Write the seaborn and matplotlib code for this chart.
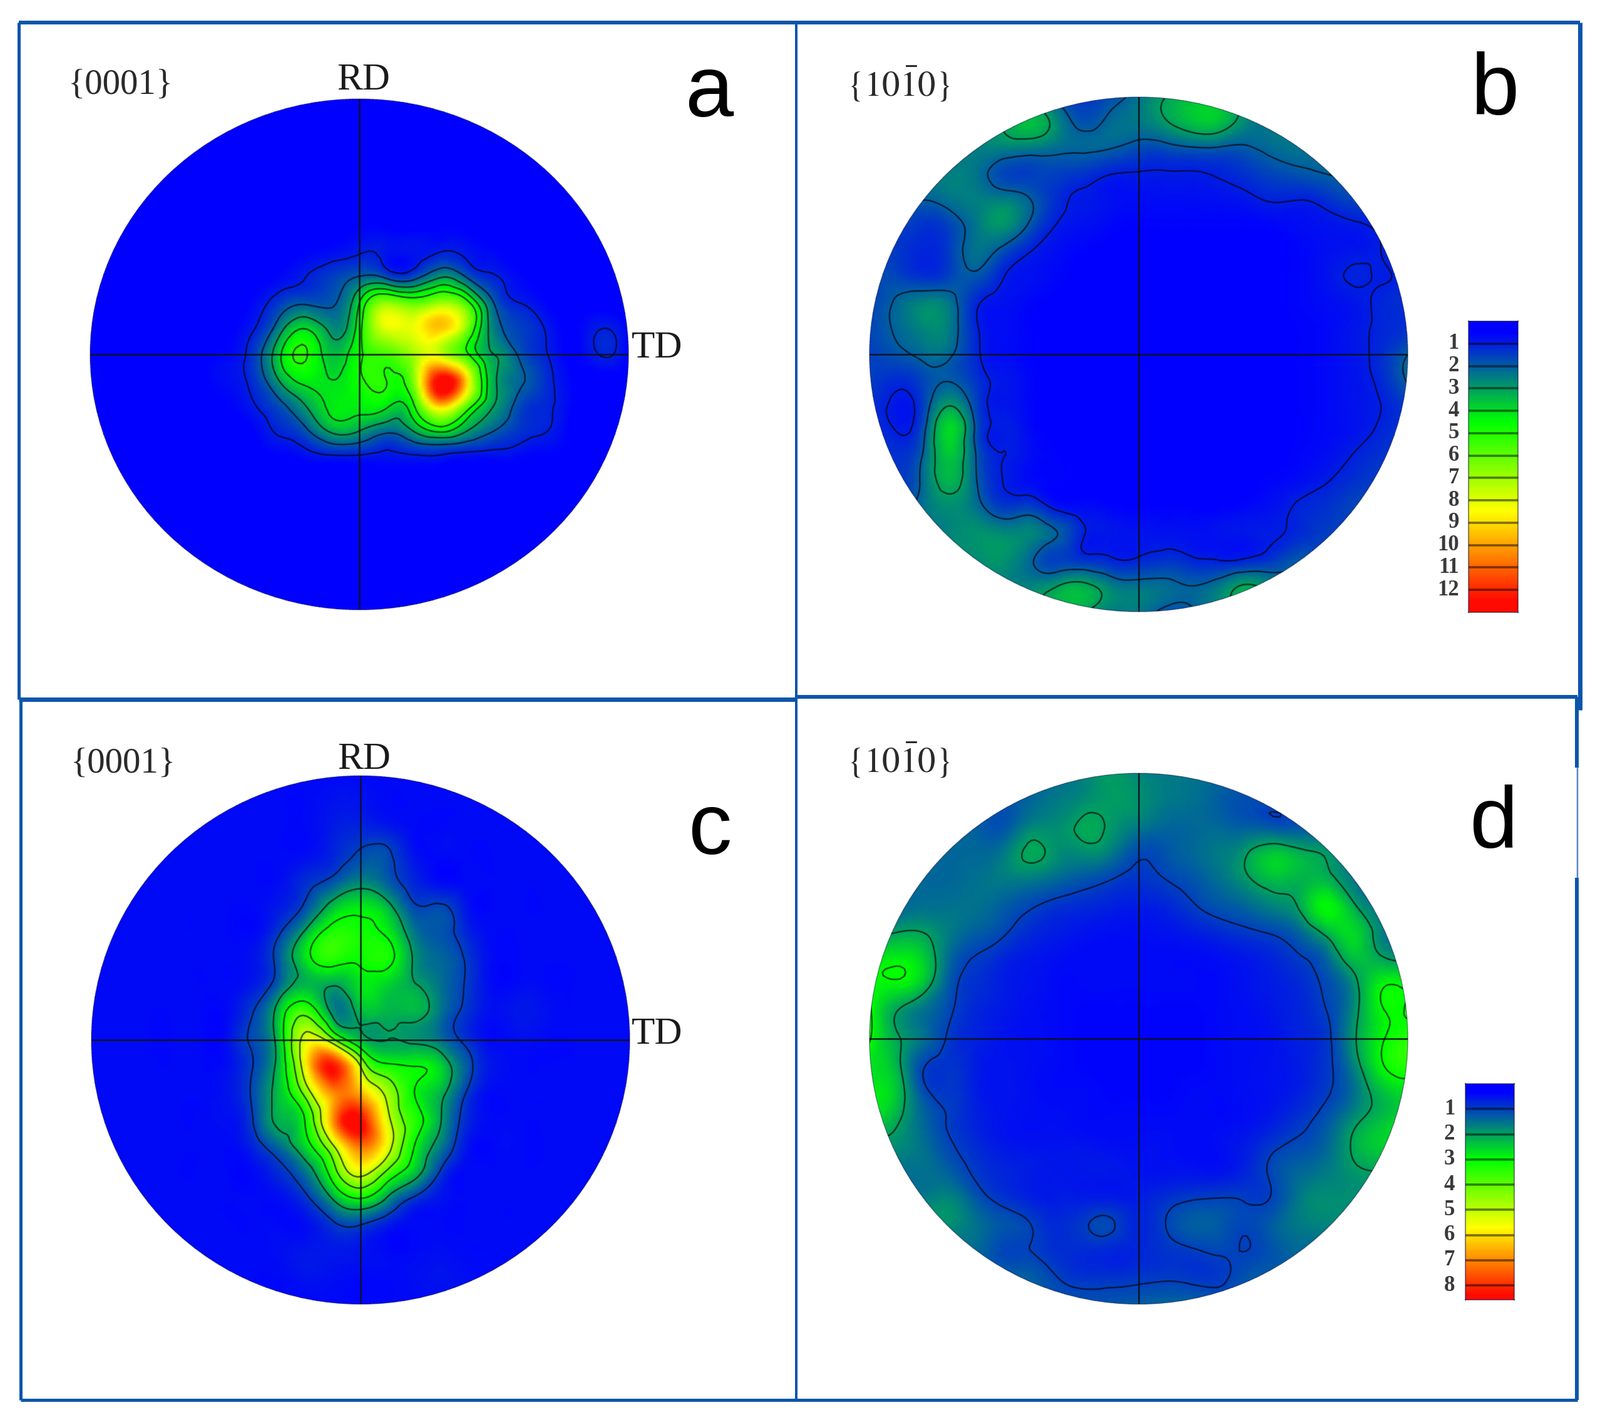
import numpy as np
import seaborn as sns
import matplotlib
matplotlib.use("Agg")
import matplotlib.pyplot as plt
from matplotlib.lines import Line2D
from matplotlib.patches import Circle
from matplotlib.tri import Triangulation, UniformTriRefiner

# ---- intensity: rows Y=+1.0 .. -1.0, columns X=-1.0 .. +1.0 (step 0.1)
Z = 0.4
BLANK = [Z] * 21
panel_a = [
 BLANK, BLANK, BLANK, BLANK, BLANK,
 [.4,.4,.4,.4,.4,.4,.4,.4,.4,.45,.55,.5,.45,.5,.45,.4,.4,.4,.4,.4,.4],
 [.4,.4,.4,.4,.4,.4,.4,.45,.55,.7,.95,.85,.8,1.0,.85,.6,.45,.4,.4,.4,.4],
 [.4,.4,.4,.4,.4,.4,.45,.6,1.0,1.5,2.1,1.9,1.7,3.0,2.0,1.1,.6,.45,.4,.4,.4],
 [.4,.4,.4,.4,.4,.4,.6,1.4,1.9,1.9,4.0,6.8,6.0,7.0,5.5,2.0,1.0,.55,.4,.4,.4],
 [.4,.4,.4,.4,.4,.45,.9,2.5,4.0,2.7,4.6,8.0,8.2,9.4,6.5,2.5,1.5,.9,.5,1.0,.5],
 [.45,.4,.4,.4,.45,.6,1.3,3.7,5.1,3.5,4.8,5.6,7.0,7.7,5.2,3.0,1.8,1.0,.5,1.05,.5],
 [.6,.5,.4,.4,.45,.7,1.2,3.0,4.3,4.0,4.8,5.0,6.5,13.0,9.0,3.2,2.1,1.2,.5,.4,.4],
 [.45,.4,.4,.4,.4,.5,.9,1.7,3.0,4.2,4.3,4.2,4.8,9.5,6.0,3.0,1.6,1.1,.5,.4,.4],
 [.4,.4,.4,.4,.4,.4,.5,1.1,1.8,3.2,3.0,2.2,3.0,4.2,3.0,2.0,1.3,1.0,.4,.4,.4],
 [.4,.4,.4,.4,.4,.4,.4,.5,.7,.9,.9,.8,.9,.9,.7,.7,.6,.5,.4,.4,.4],
 BLANK, BLANK, BLANK, BLANK, BLANK, BLANK,
]
panel_b = [
 [2.5,2.5,2.5,2.5,2.5,2.5,2.5,1.7,1.4,1.7,2.3,3.0,3.5,3.4,2.8,2.4,2.4,2.4,2.4,2.4,2.4],
 [2.5,2.5,2.5,2.5,2.5,3.0,3.5,2.6,1.8,2.2,2.4,2.9,3.5,3.5,2.6,2.4,2.4,2.4,2.4,2.4,2.4],
 [2.4,2.4,2.4,2.4,2.5,2.5,2.4,2.2,2.1,2.0,1.7,1.7,1.9,1.9,1.9,2.2,2.3,2.3,2.3,2.3,2.3],
 [2.4,2.4,2.4,2.5,2.3,1.6,1.5,1.5,1.3,1.0,.95,.95,.95,1.05,1.3,1.6,1.8,2.0,2.1,2.1,2.1],
 [2.2,2.2,2.0,2.3,2.5,2.5,2.0,1.2,.9,.75,.7,.7,.7,.75,.85,1.05,1.0,1.25,1.6,1.7,1.7],
 [1.5,1.6,1.3,1.6,2.4,2.8,1.8,.95,.75,.6,.55,.55,.55,.55,.55,.6,.7,.8,.9,1.1,1.3],
 [1.6,1.4,1.1,1.5,2.3,1.7,1.0,.7,.55,.5,.5,.5,.5,.5,.5,.5,.6,.75,.85,1.0,1.3],
 [1.5,1.6,1.3,1.6,1.8,1.0,.75,.6,.5,.5,.5,.5,.5,.5,.5,.5,.6,.8,1.05,.97,1.2],
 [1.5,2.1,2.6,2.3,1.1,.75,.6,.5,.5,.5,.5,.5,.5,.5,.5,.5,.6,.7,.85,1.1,1.3],
 [1.6,2.1,2.6,2.4,1.05,.7,.55,.5,.5,.5,.5,.5,.5,.5,.5,.5,.55,.65,.85,1.1,1.3],
 [1.5,1.8,2.2,2.1,1.1,.7,.55,.5,.5,.5,.5,.5,.5,.5,.5,.5,.55,.65,.85,1.2,2.0],
 [1.5,1.2,1.6,1.95,1.3,.85,.6,.5,.5,.5,.5,.5,.5,.5,.5,.5,.55,.65,.8,1.15,2.1],
 [1.3,.85,1.5,3.0,1.5,.85,.6,.5,.5,.5,.5,.5,.5,.5,.5,.5,.55,.65,.8,1.0,1.4],
 [1.2,1.0,1.8,3.95,1.7,.95,.65,.5,.5,.5,.5,.5,.5,.5,.5,.5,.55,.65,.8,1.1,1.4],
 [1.3,1.3,2.1,3.6,1.9,1.0,.7,.55,.5,.5,.5,.5,.5,.5,.5,.5,.6,.75,1.05,1.3,1.4],
 [1.4,1.4,2.2,3.3,2.0,.98,.7,.55,.5,.5,.5,.5,.5,.5,.5,.6,.75,1.0,1.3,1.5,1.5],
 [1.8,1.8,2.3,2.7,2.3,1.5,1.6,.9,.7,.6,.55,.55,.55,.55,.65,.8,1.1,1.3,1.6,1.6,1.6],
 [2.2,2.2,2.3,2.6,2.8,2.7,2.6,2.0,1.0,.85,.8,.8,.75,.8,.85,.95,1.2,1.5,1.6,1.6,1.6],
 [2.5,2.5,2.6,2.7,2.7,2.8,2.1,1.5,1.3,1.1,1.1,1.3,1.1,1.0,1.1,1.4,1.9,1.9,1.9,1.9,1.9],
 [2.6,2.6,2.6,2.6,2.6,2.6,2.6,3.0,3.2,2.5,2.3,2.2,2.0,2.4,3.1,2.6,2.3,2.3,2.3,2.3,2.3],
 [2.8,2.8,2.8,2.8,2.8,2.8,2.8,3.0,3.0,2.4,2.4,1.8,1.9,2.4,2.6,2.6,2.6,2.6,2.6,2.6,2.6],
]
panel_c = [
 BLANK,
 [.4,.4,.4,.4,.4,.4,.4,.4,.4,.5,.5,.4,.4,.4,.4,.4,.4,.4,.4,.4,.4],
 [.4,.4,.4,.4,.4,.4,.4,.4,.4,.6,.7,.6,.4,.4,.4,.4,.4,.4,.4,.4,.4],
 [.4,.4,.4,.4,.4,.4,.4,.4,.45,.7,1.1,1.1,.5,.4,.4,.4,.4,.4,.4,.4,.4],
 [.4,.4,.4,.4,.4,.4,.4,.45,.8,1.2,1.7,1.3,.7,.4,.4,.4,.4,.4,.4,.4,.4],
 [.4,.4,.4,.4,.4,.4,.4,.6,1.2,2.4,2.8,2.3,1.1,1.1,.5,.4,.4,.4,.4,.4,.4],
 [.4,.4,.4,.4,.4,.4,.4,1.0,2.3,3.4,3.2,2.9,1.6,1.2,.7,.4,.4,.4,.4,.4,.4],
 [.4,.4,.4,.4,.4,.4,.5,1.3,2.7,3.3,3.1,3.2,1.9,1.4,.9,.4,.4,.4,.4,.4,.4],
 [.4,.4,.4,.4,.4,.4,.6,1.5,2.3,1.95,2.7,2.5,2.1,1.5,.9,.4,.45,.4,.4,.4,.4],
 [.4,.4,.4,.4,.4,.4,1.0,2.5,3.8,1.8,2.2,2.2,2.2,1.5,.8,.45,.55,.45,.4,.4,.4],
 [.4,.4,.4,.4,.4,.45,1.1,2.5,5.4,4.2,2.3,2.0,1.9,1.5,.8,.4,.45,.4,.4,.4,.4],
 [.4,.4,.4,.4,.4,.45,1.0,2.4,5.9,8.3,5.0,3.2,3.0,2.5,1.2,.5,.4,.4,.4,.4,.4],
 [.4,.4,.4,.4,.4,.5,1.1,2.4,4.5,7.0,6.5,4.7,3.0,2.2,.9,.4,.4,.4,.4,.4,.4],
 [.4,.4,.4,.4,.4,.45,1.0,2.2,3.2,7.0,8.5,5.3,3.4,2.0,.7,.4,.4,.4,.4,.4,.4],
 [.4,.4,.4,.4,.4,.4,.7,1.5,2.7,5.0,7.3,5.5,3.0,1.6,.5,.4,.4,.4,.4,.4,.4],
 [.4,.4,.4,.4,.4,.4,.4,.8,1.6,3.6,5.4,3.8,2.4,.9,.4,.4,.4,.4,.4,.4,.4],
 [.4,.4,.4,.4,.4,.4,.4,.45,.9,2.1,3.0,1.9,.9,.5,.4,.4,.4,.4,.4,.4,.4],
 [.4,.4,.4,.4,.4,.4,.4,.4,.45,.9,1.0,.6,.4,.4,.4,.4,.4,.4,.4,.4,.4],
 [.4,.4,.4,.4,.4,.4,.4,.45,.55,.55,.5,.4,.4,.45,.4,.4,.4,.4,.4,.4,.4],
 [.4,.4,.4,.4,.4,.4,.4,.4,.5,.45,.4,.4,.45,.5,.45,.4,.4,.4,.4,.4,.4],
 BLANK,
]
panel_d = [
 [1.3,1.3,1.3,1.3,1.3,1.3,1.3,1.5,1.7,1.95,1.7,1.6,1.5,1.4,1.25,1.25,1.25,1.1,1.1,1.1,1.1],
 [1.3,1.3,1.3,1.3,1.3,1.2,1.4,1.6,1.8,1.95,1.85,1.6,1.5,1.3,1.15,1.15,1.25,1.2,1.2,1.2,1.2],
 [1.4,1.4,1.4,1.4,1.3,1.2,1.7,1.8,2.1,1.9,1.6,1.4,1.4,1.4,1.3,1.2,1.2,1.3,1.3,1.3,1.3],
 [1.4,1.4,1.4,1.4,1.4,1.6,2.1,1.8,1.8,1.6,1.1,1.2,1.4,1.6,1.95,2.4,2.15,1.9,1.5,1.5,1.5],
 [1.4,1.4,1.4,1.4,1.5,1.6,1.6,1.4,1.2,1.0,.85,1.0,1.2,1.5,1.9,2.3,2.2,2.2,1.6,1.5,1.5],
 [1.4,1.4,1.5,1.5,1.5,1.3,1.05,.85,.75,.65,.6,.7,.95,1.2,1.4,1.7,2.1,2.95,2.1,1.6,1.5],
 [1.8,2.0,2.0,1.6,1.3,1.05,.75,.6,.5,.45,.45,.5,.6,.75,.9,1.05,1.4,2.2,2.6,1.7,1.5],
 [2.7,2.85,2.5,1.4,.95,.7,.55,.45,.4,.4,.4,.4,.4,.45,.55,.7,.95,1.4,2.3,2.1,1.9],
 [2.9,2.85,2.3,1.2,.8,.6,.5,.4,.4,.4,.4,.4,.4,.4,.5,.6,.75,1.1,1.8,2.9,2.9],
 [3.1,2.0,1.5,1.05,.7,.55,.45,.4,.35,.35,.35,.35,.35,.4,.45,.55,.7,1.0,1.8,2.9,2.95],
 [3.05,2.1,1.5,.9,.65,.5,.45,.4,.35,.35,.35,.35,.35,.4,.45,.5,.65,.9,1.9,2.9,3.4],
 [2.7,2.2,1.05,.85,.6,.5,.45,.4,.35,.35,.35,.35,.35,.4,.45,.5,.6,.9,1.7,2.9,3.4],
 [2.8,2.4,1.15,.9,.6,.5,.45,.4,.4,.35,.35,.35,.4,.4,.45,.5,.65,.95,1.5,2.3,2.6],
 [2.8,2.15,1.4,.95,.65,.5,.45,.45,.4,.4,.4,.4,.4,.4,.45,.6,.85,1.2,1.8,2.3,2.6],
 [1.8,1.8,1.5,1.05,.75,.55,.5,.5,.5,.45,.45,.45,.4,.45,.6,.9,1.1,1.4,2.1,2.5,2.5],
 [1.5,1.5,1.5,1.3,.9,.7,.6,.55,.55,.55,.5,.5,.5,.5,.7,1.1,1.4,1.6,1.9,2.0,2.0],
 [1.6,1.6,1.6,1.7,1.2,.85,.65,.6,.6,.6,.6,.8,.95,1.0,.95,1.05,1.6,1.8,1.8,1.8,1.8],
 [1.8,1.8,1.8,1.8,1.5,1.2,1.0,.75,.95,1.05,.7,1.0,1.3,1.25,1.05,1.3,1.6,1.7,1.7,1.7,1.7],
 [1.4,1.4,1.4,1.4,1.4,1.05,1.0,.8,.75,.7,.7,.85,.95,1.05,1.0,1.2,1.4,1.4,1.4,1.4,1.4],
 [1.3,1.3,1.3,1.3,1.3,1.3,1.3,1.0,.85,.85,.9,.95,.9,.92,1.2,1.3,1.3,1.3,1.3,1.3,1.3],
 [1.2,1.2,1.2,1.2,1.2,1.2,1.2,1.2,1.2,1.2,1.3,1.4,1.4,1.3,1.2,1.2,1.2,1.2,1.2,1.2,1.2],
]
contour_a = [1, 2, 3, 4, 5]
contour_b = [1, 2, 3, 4]
contour_c = [1, 2, 3, 4, 5]
contour_d = [1, 2, 3]
bar_labels_12 = [str(i) for i in range(1, 13)]
bar_labels_8 = [str(i) for i in range(1, 9)]
ramp = ["#0000ff", "#00ff00", "#ffff00", "#ff0a00"]
FRAME = "#0b55ab"

W, H = 2556, 2268
sns.set_theme(style="white")
plt.rcParams["font.family"] = ["Liberation Serif", "DejaVu Serif"]
plt.rcParams["mathtext.fontset"] = "stix"
cmap = sns.blend_palette(ramp, as_cmap=True)
fig = plt.figure(figsize=(W / 100, H / 100), dpi=100, facecolor="white")


def box(x0, y0, x1, y1):
    return [x0 / W, 1 - y1 / H, (x1 - x0) / W, (y1 - y0) / H]


xs = np.arange(-10, 11) / 10
ys = np.arange(10, -11, -1) / 10
gx, gy = np.meshgrid(xs, ys)
tri = Triangulation(gx.ravel(), gy.ravel())
refiner = UniformTriRefiner(tri)


def disc(rows, levels, cx, cy, rx, ry, vmin, vmax):
    ax = fig.add_axes(box(cx - rx, cy - ry, cx + rx, cy + ry))
    ax.set_xlim(-1, 1)
    ax.set_ylim(-1, 1)
    ax.axis("off")
    z = np.array(rows, dtype=float)
    fine_tri, fine_z = refiner.refine_field(z.ravel(), subdiv=3)
    clip = Circle((0, 0), 1, transform=ax.transData)
    mesh = ax.tripcolor(fine_tri, fine_z, shading="gouraud", cmap=cmap, vmin=vmin, vmax=vmax)
    mesh.set_clip_path(clip)
    cs = ax.tricontour(fine_tri, fine_z, levels=levels, colors=[(0, 0, 0, 0.6)], linewidths=1.9)
    cs.set_clip_path(clip)
    ax.axhline(0, color="#10101c", lw=2.0, alpha=.85).set_clip_path(clip)
    ax.axvline(0, color="#10101c", lw=2.0, alpha=.85).set_clip_path(clip)
    ax.add_patch(Circle((0, 0), 1, fill=False, ec=(0, 0, 0.2, 0.35), lw=1.2, clip_on=False))


disc(panel_a, contour_a, 574, 566, 430, 408, 0.5, 12.5)
disc(panel_b, contour_b, 1819, 566, 430, 411, 0.5, 12.5)
disc(panel_c, contour_c, 576, 1661, 430, 422, 0.3, 8.4)
disc(panel_d, contour_d, 1819, 1659, 430, 424, 0.3, 8.4)


def level_bar(x0, y0, x1, y1, top, bottom, labels, vmin, vmax, label_x):
    ax = fig.add_axes(box(x0, y0, x1, y1))
    strip = np.linspace(top, bottom, 240).reshape(-1, 1)
    sns.heatmap(strip, ax=ax, cmap=cmap, vmin=vmin, vmax=vmax, cbar=False,
                xticklabels=False, yticklabels=False, rasterized=True)
    for sp in ax.spines.values():
        sp.set_visible(True)
        sp.set_color((0, 0, 0.15, 0.45))
        sp.set_linewidth(1.5)
    scale = 240 / (bottom - top)
    for i, lab in enumerate(labels, start=1):
        pos = (i - top) * scale
        ax.axhline(pos, color=(0, 0, 0, 0.5), lw=2.6)
        ypix = y0 + (i - top) / (bottom - top) * (y1 - y0)
        fig.text(label_x / W, 1 - ypix / H, lab, ha="right", va="center", fontsize=25,
                 color="#3a3a3a", fontweight="bold")


level_bar(2346, 513, 2425, 978, 0.0, 13.0, bar_labels_12, 0.5, 12.5, 2331)
level_bar(2341, 1731, 2419, 2076, 0.0, 8.57, bar_labels_8, 0.3, 8.4, 2324)


# ---- labels
def put(x, y, s, **kw):
    fig.text(x / W, 1 - y / H, s, ha="center", va="center", **kw)


for x, y in [(193, 137), (197, 1221)]:
    put(x, y, "{0001}", fontsize=41, color="#2a2a2a")
for x, y in [(1436, 134), (1436, 1214)]:
    put(x, y, r"$\{10\bar{1}0\}$", fontsize=41, color="#2a2a2a")
for x, y in [(581, 128), (582, 1213)]:
    put(x, y, "RD", fontsize=44, color="#1a1a1a")
for x, y in [(1050, 556), (1050, 1652)]:
    put(x, y, "TD", fontsize=44, color="#1a1a1a")
for s, x, y in [("a", 1133, 150), ("b", 2388, 147), ("c", 1134, 1328), ("d", 2386, 1318)]:
    fig.text(x / W, 1 - y / H, s, ha="center", va="center", fontsize=100,
             family=["Liberation Sans", "DejaVu Sans"], color="black")

# ---- panel frame
segments = [
    ((30, 36), (2524, 36), 6, 1), ((30, 36), (30, 1117), 5, 1), ((33, 1117), (33, 2236), 5, 1),
    ((30, 1117), (1272, 1117), 7, 1), ((1272, 1113), (2520, 1113), 6, 1),
    ((33, 2236), (2520, 2236), 5, 1), ((1272, 36), (1272, 2236), 4, 1),
    ((2524, 36), (2524, 1134), 7, 1), ((2519, 1113), (2519, 1226), 6, 1),
    ((2520, 1226), (2520, 1402), 2.5, 0.7), ((2519, 1402), (2519, 2236), 6, 1),
]
for (xa, ya), (xb, yb), w, al in segments:
    fig.add_artist(Line2D([xa / W, xb / W], [1 - ya / H, 1 - yb / H], color=FRAME,
                          lw=w * 0.72, alpha=al, solid_capstyle="butt"))

fig.savefig("out.png", dpi=100)
